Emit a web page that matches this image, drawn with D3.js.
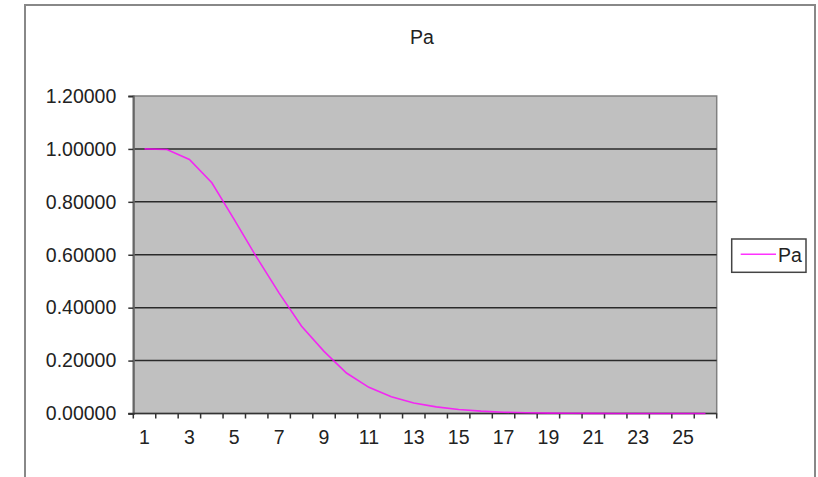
<!DOCTYPE html>
<html><head><meta charset="utf-8">
<script src="https://cdn.jsdelivr.net/npm/d3@7"></script>
<style>
html,body{margin:0;padding:0;background:#fff;}
svg{display:block;font-family:"Liberation Sans",Arial,sans-serif;}
</style></head>
<body>
<svg id="chart" width="818" height="477"></svg>
<script>
const categories = d3.range(1, 27);
const paValues = [1.0, 0.998, 0.96, 0.872, 0.733, 0.59, 0.455, 0.33, 0.235, 0.153,
  0.099, 0.063, 0.040, 0.025, 0.015, 0.009, 0.005, 0.003, 0.0015, 0.0008,
  0.0004, 0.0002, 0.0001, 0.00005, 0.00002, 0.00001];
const yTicks = [0, 0.2, 0.4, 0.6, 0.8, 1.0, 1.2];
const xLabels = categories.filter(d => d % 2 === 1);
const seriesName = "Pa";
const title = "Pa";

const svg = d3.select("#chart");
const FS = 19.5;

// outer chart border
svg.append("rect").attr("x", 25).attr("y", 5).attr("width", 790).attr("height", 490)
  .attr("fill", "#fff").attr("stroke", "#888").attr("stroke-width", 2);

const L = 133.3, R = 716.7, T = 96, B = 413.5;
const x = d3.scaleBand().domain(categories).range([L, R]).padding(0);
const y = d3.scaleLinear().domain([0, 1.2]).range([B, T]);

// plot area
svg.append("rect").attr("x", L).attr("y", T).attr("width", R - L).attr("height", B - T)
  .attr("fill", "#c0c0c0").attr("stroke", "#808080").attr("stroke-width", 1.5);

// gridlines
svg.append("g").selectAll("line").data(yTicks.filter(v => v > 0 && v < 1.2)).join("line")
  .attr("x1", L).attr("x2", R).attr("y1", d => y(d)).attr("y2", d => y(d))
  .attr("stroke", "#2a2a2a").attr("stroke-width", 1.5);

// y axis
const yAxis = svg.append("g").attr("transform", `translate(${L},0)`)
  .call(d3.axisLeft(y).tickValues(yTicks).tickFormat(d3.format(".5f")).tickSize(5).tickPadding(12));
yAxis.select(".domain").attr("stroke", "#666").attr("stroke-width", 2);
yAxis.selectAll(".tick line").attr("stroke", "#333").attr("stroke-width", 1.5);
yAxis.selectAll("text").attr("font-size", FS).attr("fill", "#222").attr("font-family", "Liberation Sans, Arial, sans-serif");

// x axis: labels at band centers, ticks at band boundaries
const xAxis = svg.append("g").attr("transform", `translate(0,${B})`)
  .call(d3.axisBottom(x).tickValues(xLabels).tickSize(0).tickPadding(17));
xAxis.select(".domain").remove();
xAxis.selectAll("text").attr("font-size", FS).attr("fill", "#222").attr("font-family", "Liberation Sans, Arial, sans-serif");
const edges = categories.map(c => x(c)).concat([x(categories[categories.length - 1]) + x.bandwidth()]);
svg.append("g").selectAll("line").data(edges).join("line")
  .attr("x1", d => d).attr("x2", d => d).attr("y1", B).attr("y2", B + 5)
  .attr("stroke", "#333").attr("stroke-width", 1.5);
svg.append("line").attr("x1", L - 5).attr("x2", R).attr("y1", B).attr("y2", B)
  .attr("stroke", "#333").attr("stroke-width", 1.5);

// series line
const line = d3.line().x((d, i) => x(categories[i]) + x.bandwidth() / 2).y(d => y(d));
svg.append("path").datum(paValues).attr("d", line)
  .attr("fill", "none").attr("stroke", "#ff00ff").attr("stroke-width", 1.6).attr("opacity", 0.8);

// title
svg.append("text").attr("x", 422).attr("y", 44).attr("text-anchor", "middle")
  .attr("font-size", FS).attr("fill", "#222").text(title);

// legend
const lg = svg.append("g");
lg.append("rect").attr("x", 731.7).attr("y", 239).attr("width", 74.3).attr("height", 33.3)
  .attr("fill", "#fff").attr("stroke", "#444").attr("stroke-width", 1.5);
lg.append("line").attr("x1", 740.7).attr("x2", 776).attr("y1", 254.3).attr("y2", 254.3)
  .attr("stroke", "#ff00ff").attr("stroke-width", 1.6).attr("opacity", 0.8);
lg.append("text").attr("x", 778).attr("y", 261.5).attr("font-size", FS).attr("fill", "#222").text(seriesName);
</script>
</body></html>
